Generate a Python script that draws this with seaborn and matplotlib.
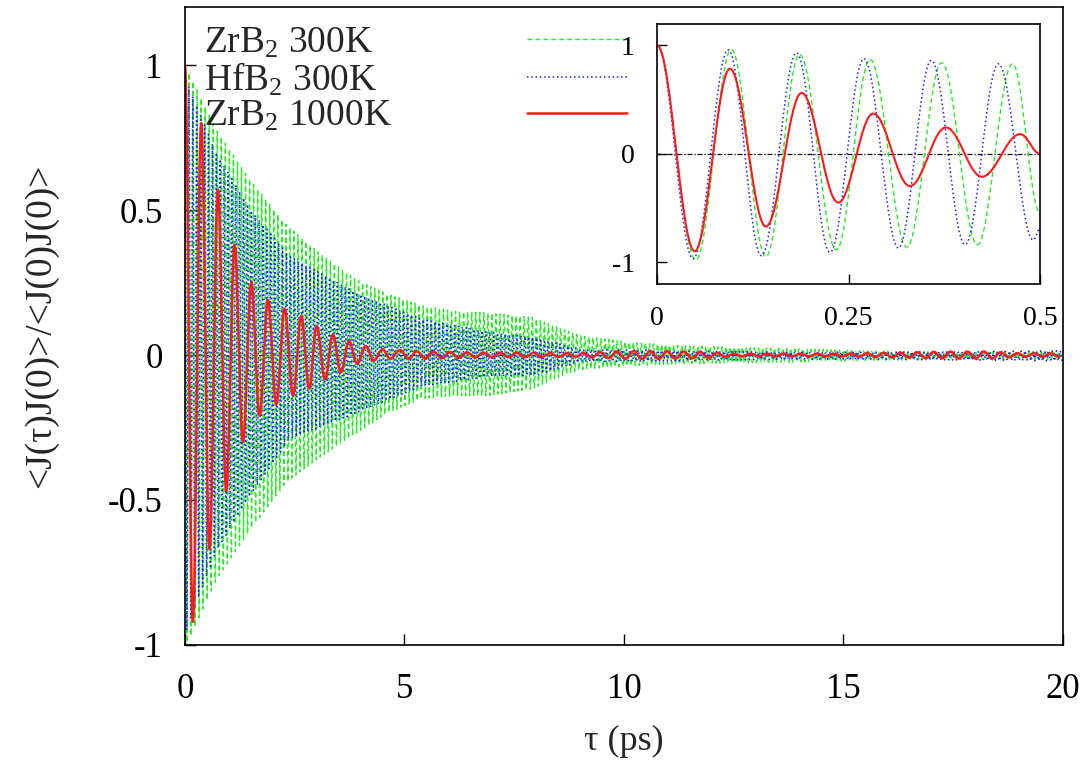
import numpy as np
import pandas as pd
import matplotlib
matplotlib.use("Agg")
import matplotlib.pyplot as plt
import seaborn as sns

# ---------------- data ----------------
labels = ["ZrB$_2$ 300K", "HfB$_2$ 300K", "ZrB$_2$ 1000K"]
colors = ["#22ee22", "#1a1aff", "#ff1a1a"]

# main panel: envelope of the dense oscillation of the 300K curves
green_env_t  = [0, 0.1, 0.7, 1.5, 2.3, 3.0, 3.9, 4.6, 5.4, 6.2, 6.9, 7.9, 8.6, 9.0, 10.1, 11.3, 13.5, 15.8, 18, 20]
green_env_hi = [1.0, 0.97, 0.78, 0.60, 0.45, 0.36, 0.26, 0.21, 0.17, 0.15, 0.145, 0.13, 0.09, 0.067, 0.044, 0.032, 0.023, 0.013, 0.010, 0.010]
green_env_lo = [-1.0, -0.98, -0.78, -0.60, -0.44, -0.36, -0.27, -0.20, -0.15, -0.14, -0.14, -0.117, -0.07, -0.05, -0.037, -0.030, -0.025, -0.018, -0.015, -0.015]
green_halfper = 0.046

blue_env_t  = [0, 0.1, 0.7, 1.5, 2.39, 3.9, 5.4, 6.9, 8.0, 9.0, 11.3, 13.5, 16, 18, 20]
blue_env_hi = [0.97, 0.92, 0.70, 0.50, 0.34, 0.215, 0.123, 0.08, 0.06, 0.02, 0.015, 0.010, 0.010, 0.012, 0.015]
blue_env_lo = [-0.97, -0.92, -0.68, -0.48, -0.29, -0.20, -0.107, -0.075, -0.07, -0.024, -0.020, -0.015, -0.015, -0.018, -0.020]
blue_halfper = 0.0445

# main panel: red curve extrema as drawn
red_ext_t = [0, 0.18, 0.37, 0.56, 0.75, 0.94, 1.13, 1.32, 1.51, 1.70, 1.89, 2.08, 2.27, 2.46,
             2.65, 2.83, 3.00, 3.19, 3.37, 3.55, 3.74, 3.92, 4.12, 4.30, 4.50, 4.67, 4.90]
red_ext_v = [1.0, -0.92, 0.80, -0.67, 0.57, -0.47, 0.38, -0.30, 0.25, -0.21, 0.19, -0.17, 0.16, -0.14,
             0.135, -0.116, 0.10, -0.084, 0.071, -0.06, 0.048, -0.03, 0.031, -0.02, 0.02, -0.013, 0.017]
red_tail_t   = [5, 7, 9, 9.9, 10.8, 11.7, 12.5, 15, 17.5, 18.3, 19, 20]
red_tail_amp = [0.013, 0.008, 0.006, 0.013, 0.014, 0.011, 0.005, 0.005, 0.012, 0.012, 0.006, 0.006]
red_halfper = 0.19

# inset: extrema of each curve (0 - 0.5 ps)
in_green_t = [0, 0.0505, 0.097, 0.142, 0.186, 0.234, 0.278, 0.326, 0.3715, 0.418, 0.464, 0.5]
in_green_v = [1.0, -0.98, 0.96, -0.95, 0.917, -0.887, 0.87, -0.862, 0.84, -0.84, 0.83, -0.55]
in_blue_t = [0, 0.047, 0.0928, 0.136, 0.182, 0.2256, 0.27, 0.315, 0.358, 0.402, 0.4455, 0.491, 0.5]
in_blue_v = [1.0, -0.97, 0.96, -0.94, 0.93, -0.91, 0.877, -0.87, 0.862, -0.84, 0.83, -0.795, -0.69]
in_red_t = [0, 0.049, 0.095, 0.142, 0.1886, 0.2365, 0.282, 0.330, 0.377, 0.424, 0.474, 0.5]
in_red_v = [1.0, -0.90, 0.785, -0.672, 0.561, -0.451, 0.371, -0.298, 0.242, -0.212, 0.181, 0.0]

main_xticks = [0, 5, 10, 15, 20]
main_yticks = [-1, -0.5, 0, 0.5, 1]
main_yticklabels = ["-1", "-0.5", "0", "0.5", "1"]
in_xticks = [0, 0.25, 0.5]
in_xticklabels = ["0", "0.25", "0.5"]
in_yticks = [-1, 0, 1]


# ---------------- helpers (smooth strokes between read extrema) ----------------
def smooth(t, v, n=16):
    t = np.asarray(t, float)
    v = np.asarray(v, float)
    s = np.linspace(0, 1, n, endpoint=False)
    w = (1 - np.cos(np.pi * s)) / 2
    tt = (t[:-1, None] + (t[1:] - t[:-1])[:, None] * s).ravel()
    vv = (v[:-1, None] + (v[1:] - v[:-1])[:, None] * w).ravel()
    return np.append(tt, t[-1]), np.append(vv, v[-1])


def band(env_t, hi, lo, h, tmax=20.0):
    tk = np.arange(0, tmax + 1e-9, h)
    k = np.arange(len(tk))
    vals = np.where(k % 2 == 0, np.interp(tk, env_t, hi), np.interp(tk, env_t, lo))
    return smooth(tk, vals, n=4)


g_t, g_v = band(green_env_t, green_env_hi, green_env_lo, green_halfper)
b_t, b_v = band(blue_env_t, blue_env_hi, blue_env_lo, blue_halfper)

tail_t = np.arange(red_ext_t[-1] + red_halfper, 20 + 1e-9, red_halfper)
tail_sign = np.where(np.arange(len(tail_t)) % 2 == 0, -1.0, 1.0)
tail_v = tail_sign * np.interp(tail_t, red_tail_t, red_tail_amp)
r_t, r_v = smooth(np.concatenate([red_ext_t, tail_t]), np.concatenate([red_ext_v, tail_v]), n=16)

main_df = {
    labels[0]: pd.DataFrame({"t": g_t, "v": g_v}),
    labels[1]: pd.DataFrame({"t": b_t, "v": b_v}),
    labels[2]: pd.DataFrame({"t": r_t, "v": r_v}),
}
inset_df = {
    labels[0]: pd.DataFrame(dict(zip(["t", "v"], smooth(in_green_t, in_green_v, 30)))),
    labels[1]: pd.DataFrame(dict(zip(["t", "v"], smooth(in_blue_t, in_blue_v, 30)))),
    labels[2]: pd.DataFrame(dict(zip(["t", "v"], smooth(in_red_t, in_red_v, 30)))),
}

# ---------------- style ----------------
sns.set_theme(style="ticks")
plt.rcParams["font.family"] = ["Liberation Serif", "DejaVu Serif"]
plt.rcParams["mathtext.fontset"] = "custom"
plt.rcParams["mathtext.rm"] = "Liberation Serif"
plt.rcParams["mathtext.it"] = "Liberation Serif:italic"
plt.rcParams["axes.unicode_minus"] = False

styles = [
    dict(lw=1.0, dashes=(3.5, 2.2)),
    dict(lw=1.1, dashes=(1.0, 1.8)),
    dict(lw=1.8, dashes=()),
]

fig = plt.figure(figsize=(10.88, 7.63), dpi=100)
ax = fig.add_axes([0.170, 0.1547, 0.807, 0.836])

ax.axhline(0, color="black", lw=0.6, ls=(0, (4, 1.5, 1, 1.5)), zorder=1)
handles = []
for lab, col, st in zip(labels, colors, styles):
    d = main_df[lab]
    sns.lineplot(data=d, x="t", y="v", ax=ax, color=col, lw=st["lw"], estimator=None,
                 sort=False, label=lab, zorder=2)
    line = ax.get_lines()[-1]
    if st["dashes"]:
        line.set_dashes(st["dashes"])
    handles.append(line)

ax.set_xlim(0, 20)
ax.set_ylim(-1, 1.2)
ax.set_xticks(main_xticks)
ax.set_xticklabels([str(x) for x in main_xticks])
ax.set_yticks(main_yticks)
ax.set_yticklabels(main_yticklabels)
ax.tick_params(direction="in", length=8, width=1, labelsize=25, colors="black")
ax.tick_params(axis="x", pad=20)
ax.tick_params(axis="y", pad=16)
ax.set_xlabel("τ (ps)", fontsize=26, labelpad=14)
ax.set_ylabel("<J(τ)J(0)>/<J(0)J(0)>", fontsize=27, labelpad=36)
for sp in ax.spines.values():
    sp.set_color("black")
    sp.set_linewidth(1.2)

# gnuplot-style key: left-aligned texts, line samples in a column on the right
leg_kw = dict(loc="upper left", bbox_to_anchor=(0.0, 1.0), frameon=False, fontsize=27,
              labelspacing=0.02, borderaxespad=0.1)
leg_lines = ax.legend(handles=handles, labels=labels, markerfirst=False,
                      handlelength=2.67, handletextpad=3.6, **leg_kw)
for txt in leg_lines.get_texts():
    txt.set_alpha(0)
ax.add_artist(leg_lines)
leg_text = ax.legend(handles=handles, labels=labels, markerfirst=True,
                     handlelength=0, handletextpad=0, **leg_kw)
for h in leg_text.legend_handles:
    h.set_visible(False)

# ---------------- inset ----------------
axi = fig.add_axes([0.604, 0.628, 0.352, 0.341])
axi.set_facecolor("white")
axi.axhline(0, color="black", lw=0.9, ls=(0, (4, 1.5, 1, 1.5)), zorder=1)
for lab, col, st in zip(labels, colors, styles):
    d = inset_df[lab]
    lw = st["lw"] if st["dashes"] else 1.5
    sns.lineplot(data=d, x="t", y="v", ax=axi, color=col, lw=lw,
                 estimator=None, sort=False, legend=False, zorder=2)
    line = axi.get_lines()[-1]
    if st["dashes"]:
        line.set_dashes(st["dashes"])
axi.set_xlim(0, 0.5)
axi.set_ylim(-1.2, 1.2)
axi.set_xticks(in_xticks)
axi.set_xticklabels(in_xticklabels)
axi.set_yticks(in_yticks)
axi.set_yticklabels([str(v) for v in in_yticks])
axi.tick_params(direction="in", length=7, width=1, labelsize=20, colors="black")
axi.tick_params(axis="x", pad=16)
axi.tick_params(axis="y", pad=16)
axi.set_xlabel("")
axi.set_ylabel("")
for sp in axi.spines.values():
    sp.set_color("black")
    sp.set_linewidth(1.2)

fig.savefig("out.png", dpi=100, facecolor="white")
